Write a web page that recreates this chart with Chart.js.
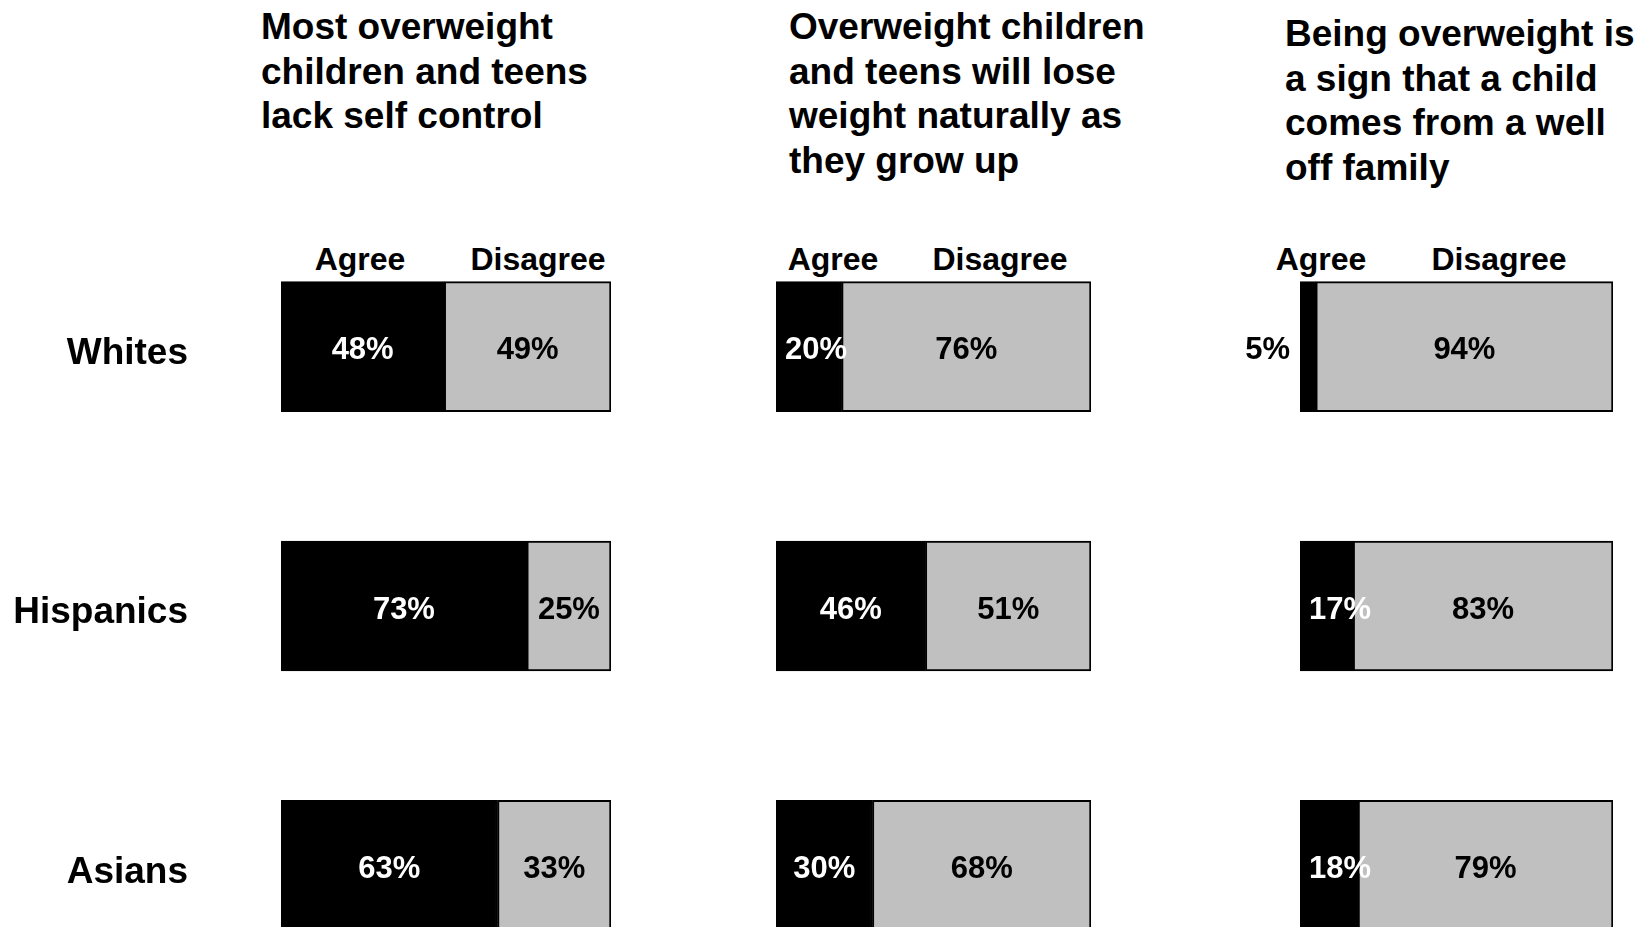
<!DOCTYPE html>
<html>
<head>
<meta charset="utf-8">
<title>Overweight attitudes</title>
<script src="https://cdn.jsdelivr.net/npm/chart.js@4.4.1/dist/chart.umd.min.js"></script>
<style>
  html, body { margin: 0; padding: 0; width: 1645px; height: 927px; overflow: hidden; background: #fff; }
  body { position: relative; font-family: "Liberation Sans", Arial, sans-serif; font-weight: bold; color: #000; }
  .titulo { position: absolute; font-size: 37px; line-height: 44.5px; white-space: nowrap; }
  .cabecera { position: absolute; font-size: 32px; line-height: 36px; white-space: nowrap; transform: translateX(-50%); }
  .panel { position: absolute; top: 0; height: 1000px; }
</style>
</head>
<body>
<script>
// Datos
const GRUPOS = ['Whites', 'Hispanics', 'Asians'];
const PREGUNTAS = [
  ['Most overweight', 'children and teens', 'lack self control'],
  ['Overweight children', 'and teens will lose', 'weight naturally as', 'they grow up'],
  ['Being overweight is', 'a sign that a child', 'comes from a well', 'off family']
];
const RESPUESTAS = ['Agree', 'Disagree'];
const DE_ACUERDO = [
  [48, 73, 63],
  [20, 46, 30],
  [5, 17, 18]
];
const EN_DESACUERDO = [
  [49, 25, 33],
  [76, 51, 68],
  [94, 83, 79]
];

// Colores
const COLOR_ACUERDO = '#000000';
const COLOR_DESACUERDO = '#c0c0c0';

// Posicion de cada panel (px de la pagina)
const PANELES = [
  { left: 0,    width: 640, padIzq: 281, padDer: 29, tituloX: 261, tituloY: 5,  cabX: [360, 538] },
  { left: 640,  width: 480, padIzq: 136, padDer: 29, tituloX: 789, tituloY: 5,  cabX: [833, 1000] },
  { left: 1120, width: 525, padIzq: 180, padDer: 32, tituloX: 1285, tituloY: 12, cabX: [1321, 1499] }
];

const FUENTE = '"Liberation Sans", Arial, sans-serif';

// Textos de porcentaje y nombres de grupo
const etiquetasPlugin = {
  id: 'etiquetas',
  afterDatasetsDraw(chart, args, opts) {
    const ctx = chart.ctx;
    ctx.save();
    ctx.textBaseline = 'middle';

    if (opts.grupos) {
      ctx.font = `bold 37px ${FUENTE}`;
      ctx.fillStyle = '#000';
      ctx.textAlign = 'right';
      GRUPOS.forEach((g, i) => {
        ctx.fillText(g, opts.grupoX, chart.scales.y.getPixelForValue(i) + 7);
      });
    }

    ctx.font = `bold 31px ${FUENTE}`;
    chart.data.datasets.forEach((ds, di) => {
      const meta = chart.getDatasetMeta(di);
      meta.data.forEach((bar, i) => {
        const texto = ds.crudos[i] + '%';
        const ancho = ctx.measureText(texto).width;
        const inicio = Math.min(bar.base, bar.x);
        const fin = Math.max(bar.base, bar.x);
        const y = bar.y + 4;
        if (di === 0 && fin - inicio < 25) {
          // Segmento muy angosto: texto afuera, a la izquierda
          ctx.fillStyle = '#000';
          ctx.textAlign = 'right';
          ctx.fillText(texto, inicio - 10, y);
          return;
        }
        let izq = (inicio + fin) / 2 - ancho / 2;
        if (di === 0 && izq < inicio + 9) izq = inicio + 9;
        ctx.fillStyle = di === 0 ? '#fff' : '#000';
        ctx.textAlign = 'left';
        ctx.fillText(texto, izq, y);
      });
    });
    ctx.restore();
  }
};

PANELES.forEach((p, n) => {
  // Titulo de la pregunta
  const tit = document.createElement('div');
  tit.className = 'titulo';
  tit.style.left = p.tituloX + 'px';
  tit.style.top = p.tituloY + 'px';
  tit.innerHTML = PREGUNTAS[n].join('<br>');
  document.body.appendChild(tit);

  // Cabeceras Agree / Disagree
  RESPUESTAS.forEach((r, k) => {
    const cab = document.createElement('div');
    cab.className = 'cabecera';
    cab.style.left = p.cabX[k] + 'px';
    cab.style.top = '241px';
    cab.textContent = r;
    document.body.appendChild(cab);
  });

  const cont = document.createElement('div');
  cont.className = 'panel';
  cont.style.left = p.left + 'px';
  cont.style.width = p.width + 'px';
  const canvas = document.createElement('canvas');
  cont.appendChild(canvas);
  document.body.appendChild(cont);

  // 100% apilado: cada fila se normaliza a la suma de acuerdo + desacuerdo
  const totales = DE_ACUERDO[n].map((v, i) => v + EN_DESACUERDO[n][i]);

  new Chart(canvas, {
    type: 'bar',
    data: {
      labels: GRUPOS,
      datasets: [
        {
          label: RESPUESTAS[0],
          data: DE_ACUERDO[n].map((v, i) => v / totales[i] * 100),
          crudos: DE_ACUERDO[n],
          backgroundColor: COLOR_ACUERDO,
          borderColor: '#000',
          borderWidth: 2,
          borderSkipped: false,
          barThickness: 130
        },
        {
          label: RESPUESTAS[1],
          data: EN_DESACUERDO[n].map((v, i) => v / totales[i] * 100),
          crudos: EN_DESACUERDO[n],
          backgroundColor: COLOR_DESACUERDO,
          borderColor: '#000',
          borderWidth: 2,
          borderSkipped: false,
          barThickness: 130
        }
      ]
    },
    options: {
      indexAxis: 'y',
      responsive: true,
      maintainAspectRatio: false,
      animation: false,
      layout: { padding: { left: p.padIzq, right: p.padDer, top: 217, bottom: 5 } },
      plugins: {
        legend: { display: false },
        tooltip: { enabled: false },
        etiquetas: n === 0 ? { grupos: true, grupoX: 188 } : {}
      },
      scales: {
        x: { stacked: true, min: 0, max: 100, display: false },
        y: { stacked: true, display: false, offset: true, grid: { display: false } }
      }
    },
    plugins: [etiquetasPlugin]
  });
});
</script>
</body>
</html>
